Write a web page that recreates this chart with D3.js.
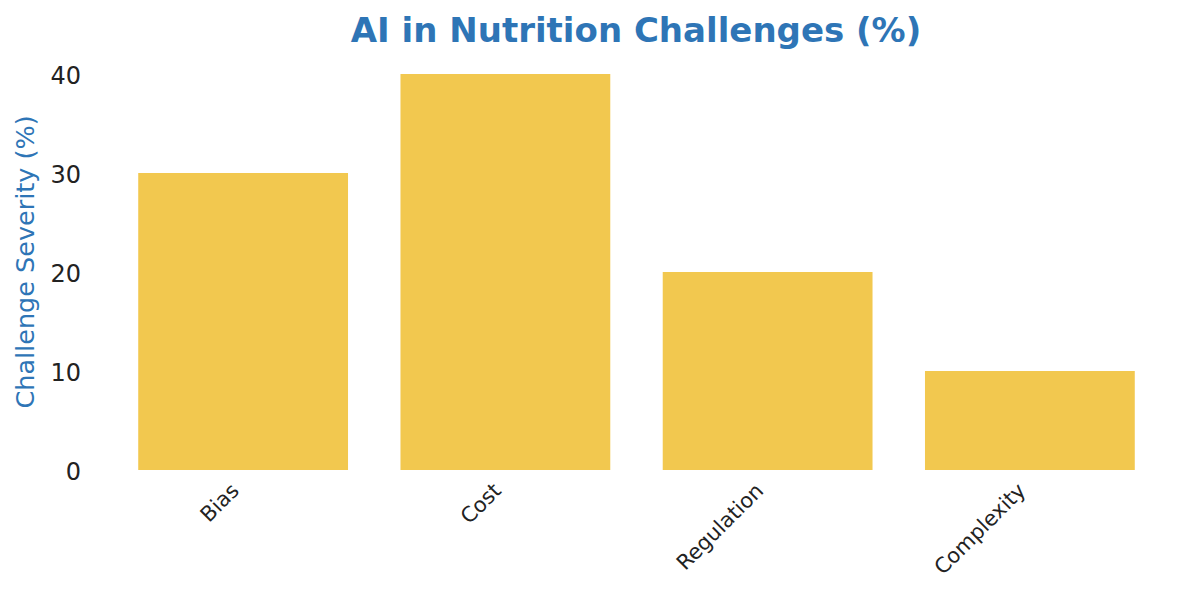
<!DOCTYPE html>
<html>
<head>
<meta charset="utf-8">
<script src="https://cdn.jsdelivr.net/npm/d3@7"></script>
<style>
  html, body { margin: 0; padding: 0; background: #fff; }
  svg { display: block; }
  text { font-family: "DejaVu Sans", sans-serif; }
</style>
</head>
<body>
<svg id="chart" width="1200" height="592"></svg>
<script>
const categories = ["Bias", "Cost", "Regulation", "Complexity"];
const values = [30, 40, 20, 10];
const yTicks = [0, 10, 20, 30, 40];
const title = "AI in Nutrition Challenges (%)";
const yLabel = "Challenge Severity (%)";

(function () {
const svg = d3.select("#chart");
const mLeft = 112, mRight = 1161, mTop = 74, mBottom = 470;

const x = d3.scaleBand().domain(categories).range([mLeft, mRight]).paddingInner(0.2).paddingOuter(0.1);
const y = d3.scaleLinear().domain([0, 40]).range([mBottom, mTop]);

svg.append("g").selectAll("rect").data(categories).join("rect")
  .attr("x", d => x(d))
  .attr("y", (d, i) => y(values[i]))
  .attr("width", x.bandwidth())
  .attr("height", (d, i) => y(0) - y(values[i]))
  .attr("fill", "#F2C84F");

const yAxis = svg.append("g").attr("transform", `translate(${mLeft - 31},0)`)
  .call(d3.axisLeft(y).tickValues(yTicks).tickSize(0).tickPadding(0));
yAxis.select(".domain").remove();
yAxis.selectAll("text").attr("font-size", 24).attr("fill", "#222").attr("font-family", "DejaVu Sans").attr("dy", "0.38em");

svg.append("g").selectAll("text").data(categories).join("text")
  .attr("transform", d => `translate(${x(d) + x.bandwidth() / 2 - 3},${mBottom + 22}) rotate(-45)`)
  .attr("text-anchor", "end")
  .attr("font-size", 21)
  .attr("fill", "#222")
  .text(d => d);

svg.append("text")
  .attr("x", 636).attr("y", 42)
  .attr("text-anchor", "middle")
  .attr("font-size", 34)
  .attr("font-weight", "bold")
  .attr("fill", "#2E75B6")
  .text(title);

svg.append("text")
  .attr("transform", `translate(34,262) rotate(-90)`)
  .attr("text-anchor", "middle")
  .attr("font-size", 25.5)
  .attr("fill", "#2E75B6")
  .text(yLabel);
})();
</script>
</body>
</html>
